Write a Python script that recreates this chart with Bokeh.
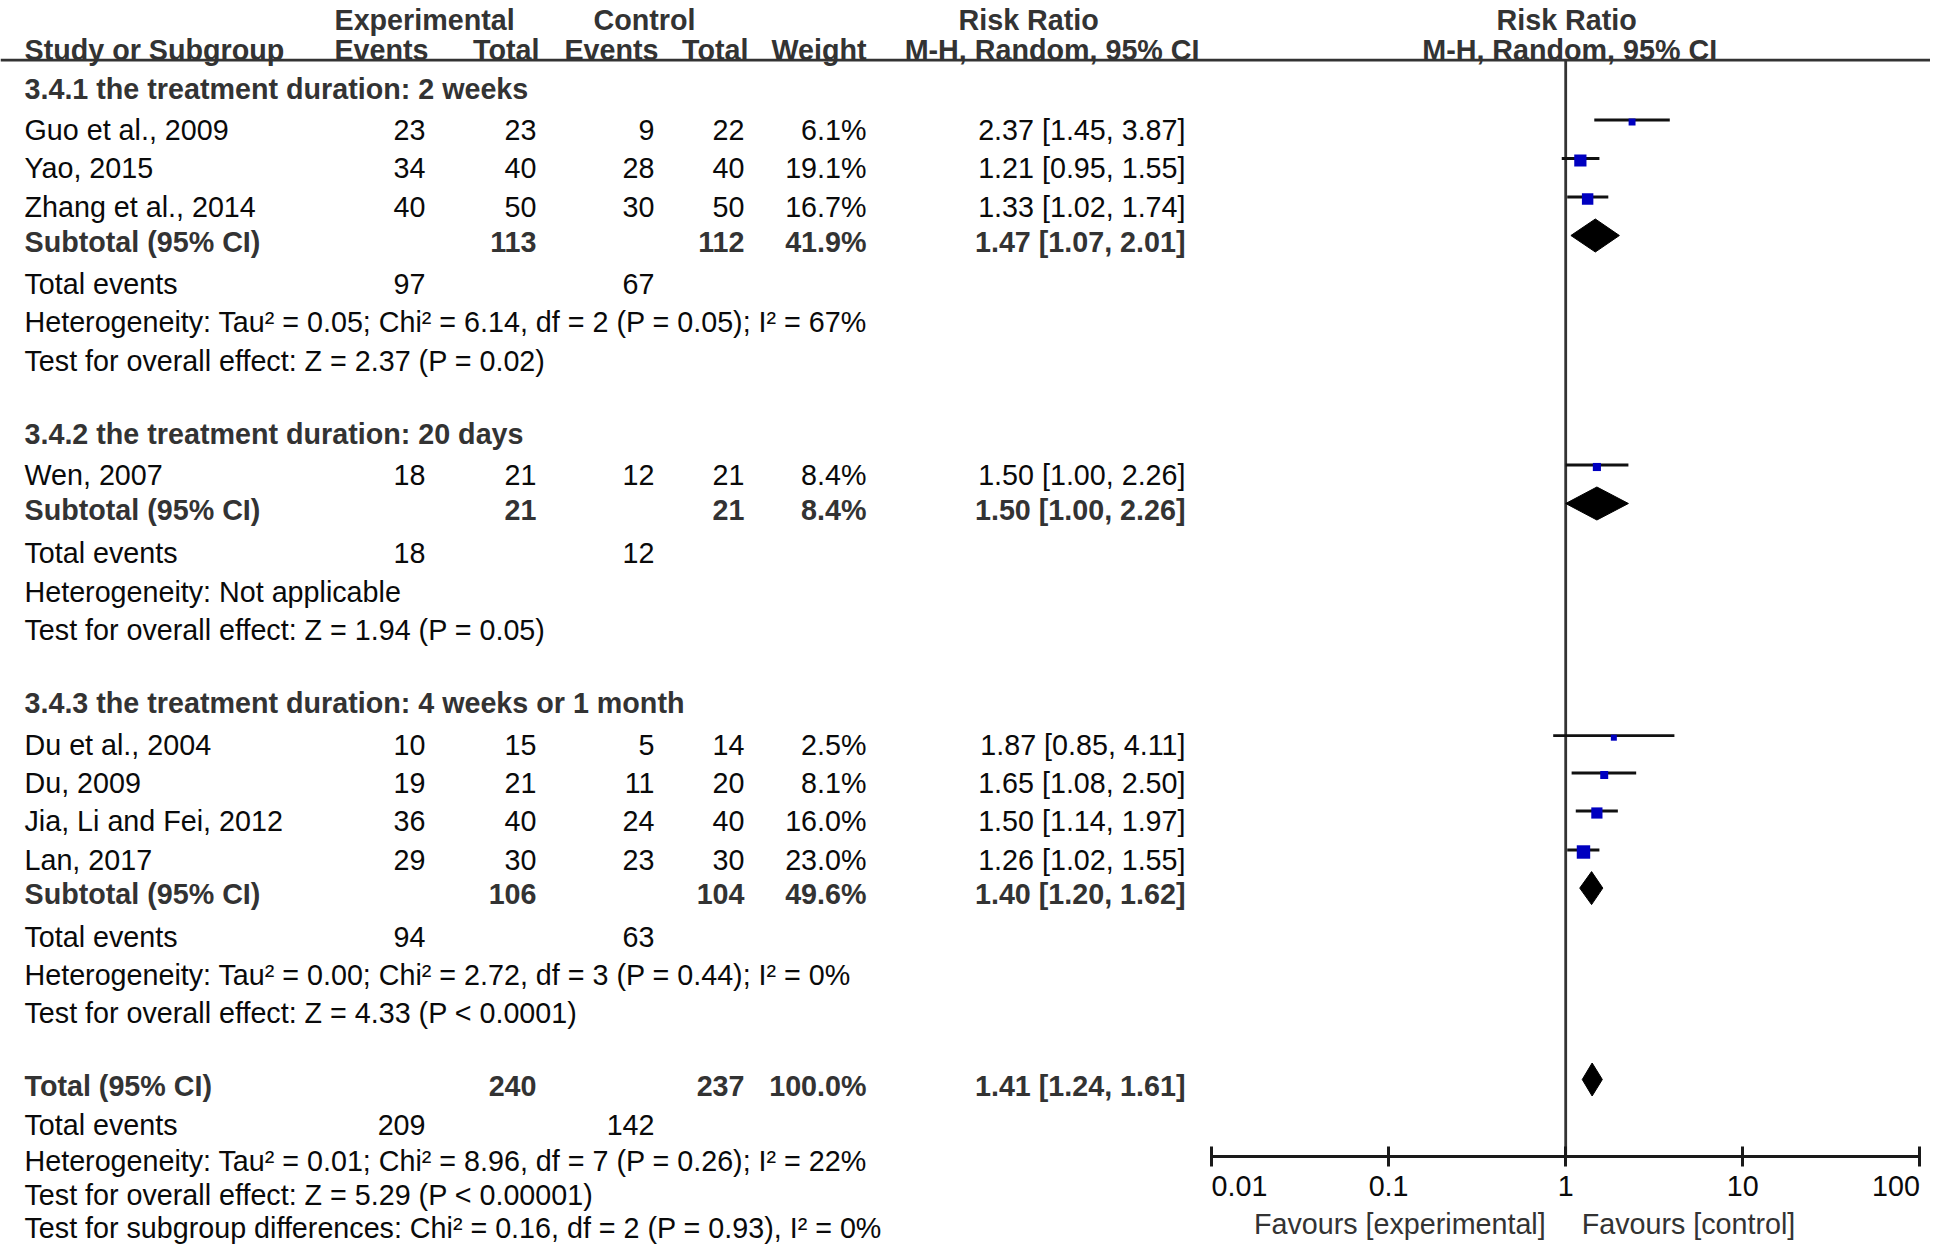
import math
from bokeh.plotting import figure
from bokeh.models import Range1d, LogScale, LogAxis, FixedTicker, ColumnDataSource
from bokeh.core.properties import value
from bokeh.embed import file_html
from bokeh.resources import INLINE

# ---------------- data ----------------
studies = ["Guo et al., 2009", "Yao, 2015", "Zhang et al., 2014", "Wen, 2007",
           "Du et al., 2004", "Du, 2009", "Jia, Li and Fei, 2012", "Lan, 2017"]
study_group = [0, 0, 0, 1, 2, 2, 2, 2]
exp_events = [23, 34, 40, 18, 10, 19, 36, 29]
exp_total = [23, 40, 50, 21, 15, 21, 40, 30]
ctl_events = [9, 28, 30, 12, 5, 11, 24, 23]
ctl_total = [22, 40, 50, 21, 14, 20, 40, 30]
weight = [6.1, 19.1, 16.7, 8.4, 2.5, 8.1, 16.0, 23.0]
rr = [2.37, 1.21, 1.33, 1.50, 1.87, 1.65, 1.50, 1.26]
rr_lo = [1.45, 0.95, 1.02, 1.00, 0.85, 1.08, 1.14, 1.02]
rr_hi = [3.87, 1.55, 1.74, 2.26, 4.11, 2.50, 1.97, 1.55]

groups = ["3.4.1 the treatment duration: 2 weeks",
          "3.4.2 the treatment duration: 20 days",
          "3.4.3 the treatment duration: 4 weeks or 1 month"]
grp_exp_total = [113, 21, 106]
grp_ctl_total = [112, 21, 104]
grp_weight = [41.9, 8.4, 49.6]
grp_rr = [1.47, 1.50, 1.40]
grp_lo = [1.07, 1.00, 1.20]
grp_hi = [2.01, 2.26, 1.62]
grp_exp_events = [97, 18, 94]
grp_ctl_events = [67, 12, 63]
grp_het = ["Heterogeneity: Tau² = 0.05; Chi² = 6.14, df = 2 (P = 0.05); I² = 67%",
           "Heterogeneity: Not applicable",
           "Heterogeneity: Tau² = 0.00; Chi² = 2.72, df = 3 (P = 0.44); I² = 0%"]
grp_test = ["Test for overall effect: Z = 2.37 (P = 0.02)",
            "Test for overall effect: Z = 1.94 (P = 0.05)",
            "Test for overall effect: Z = 4.33 (P < 0.0001)"]

tot_exp_total = 240
tot_ctl_total = 237
tot_weight = 100.0
tot_rr, tot_lo, tot_hi = 1.41, 1.24, 1.61
tot_exp_events = 209
tot_ctl_events = 142
tot_het = "Heterogeneity: Tau² = 0.01; Chi² = 8.96, df = 7 (P = 0.26); I² = 22%"
tot_test = "Test for overall effect: Z = 5.29 (P < 0.00001)"
sub_diff = "Test for subgroup differences: Chi² = 0.16, df = 2 (P = 0.93), I² = 0%"

axis_ticks = [0.01, 0.1, 1, 10, 100]
axis_tick_labels = ["0.01", "0.1", "1", "10", "100"]
favours_left = "Favours [experimental]"
favours_right = "Favours [control]"

# ---------------- layout (pixel space) ----------------
W, H = 1930, 1244
X_ONE = 1565.2      # x of RR = 1
DECADE = 177.1      # px per decade
HEAD1_Y, HEAD2_Y, HEAD_LINE_Y = 19, 49.6, 59.6
AXIS_Y = 1155.5
SG_HEADER_Y = [88, 433, 702.5]
STUDY_Y = [129, 167.5, 206, 474, 744.7, 782, 820, 859]
SUB_Y = [241, 509, 893.6]
SUB_EVENTS_Y = [283, 552, 936]
SUB_HET_Y = [321.4, 591, 974]
SUB_TEST_Y = [360, 629, 1012.7]
TOTAL_Y, TOTAL_EVENTS_Y, TOTAL_HET_Y, TOTAL_TEST_Y, SUBDIFF_Y = 1085, 1124, 1160, 1194, 1227
TICK_LABEL_Y, FAVOURS_Y = 1185, 1223
COL_NAME = 24
COL_EE, COL_ET, COL_CE, COL_CT, COL_W, COL_RR = 425, 536, 654, 744, 866, 1185

FONT = value("Liberation Sans")
FS = value("28.7px")
BLACK = "#0a0a0a"
GREY = "#333333"

p = figure(width=W, height=H, x_range=Range1d(0, W), y_range=Range1d(H, 0),
           output_backend="svg", toolbar_location=None,
           x_axis_location=None, y_axis_location=None, min_border=0)
p.outline_line_color = None
p.background_fill_color = "white"
p.border_fill_color = "white"
p.xgrid.visible = False
p.ygrid.visible = False

rr_lo_lim = 10 ** ((0 - X_ONE) / DECADE)
rr_hi_lim = 10 ** ((W - X_ONE) / DECADE)
p.extra_x_ranges = {"rr": Range1d(rr_lo_lim, rr_hi_lim)}
p.extra_x_scales = {"rr": LogScale()}

texts = {}


def add(x, y, t, align="left", bold=False, color=BLACK):
    key = (align, bold, color)
    texts.setdefault(key, ([], [], []))
    texts[key][0].append(x)
    texts[key][1].append(y)
    texts[key][2].append(t)


# headers
add(334, HEAD1_Y, "Experimental", bold=True, color=GREY)
add(593, HEAD1_Y, "Control", bold=True, color=GREY)
add(958, HEAD1_Y, "Risk Ratio", bold=True, color=GREY)
add(X_ONE + 1, HEAD1_Y, "Risk Ratio", align="center", bold=True, color=GREY)
add(COL_NAME, HEAD2_Y, "Study or Subgroup", bold=True, color=GREY)
for x, t in [(428, "Events"), (539, "Total"), (658, "Events"), (748, "Total"),
             (866, "Weight"), (1199, "M-H, Random, 95% CI")]:
    add(x, HEAD2_Y, t, align="right", bold=True, color=GREY)
add(X_ONE + 4, HEAD2_Y, "M-H, Random, 95% CI", align="center", bold=True, color=GREY)


def ci_text(a, b, c):
    return "%.2f [%.2f, %.2f]" % (a, b, c)


for g in range(3):
    add(COL_NAME, SG_HEADER_Y[g], groups[g], bold=True, color=GREY)
    for i in range(len(studies)):
        if study_group[i] != g:
            continue
        y = STUDY_Y[i]
        add(COL_NAME, y, studies[i])
        add(COL_EE, y, str(exp_events[i]), "right")
        add(COL_ET, y, str(exp_total[i]), "right")
        add(COL_CE, y, str(ctl_events[i]), "right")
        add(COL_CT, y, str(ctl_total[i]), "right")
        add(COL_W, y, "%.1f%%" % weight[i], "right")
        add(COL_RR, y, ci_text(rr[i], rr_lo[i], rr_hi[i]), "right")
    y = SUB_Y[g]
    add(COL_NAME, y, "Subtotal (95% CI)", bold=True, color=GREY)
    add(COL_ET, y, str(grp_exp_total[g]), "right", True, GREY)
    add(COL_CT, y, str(grp_ctl_total[g]), "right", True, GREY)
    add(COL_W, y, "%.1f%%" % grp_weight[g], "right", True, GREY)
    add(COL_RR, y, ci_text(grp_rr[g], grp_lo[g], grp_hi[g]), "right", True, GREY)
    add(COL_NAME, SUB_EVENTS_Y[g], "Total events")
    add(COL_EE, SUB_EVENTS_Y[g], str(grp_exp_events[g]), "right")
    add(COL_CE, SUB_EVENTS_Y[g], str(grp_ctl_events[g]), "right")
    add(COL_NAME, SUB_HET_Y[g], grp_het[g])
    add(COL_NAME, SUB_TEST_Y[g], grp_test[g])

add(COL_NAME, TOTAL_Y, "Total (95% CI)", bold=True, color=GREY)
add(COL_ET, TOTAL_Y, str(tot_exp_total), "right", True, GREY)
add(COL_CT, TOTAL_Y, str(tot_ctl_total), "right", True, GREY)
add(COL_W, TOTAL_Y, "%.1f%%" % tot_weight, "right", True, GREY)
add(COL_RR, TOTAL_Y, ci_text(tot_rr, tot_lo, tot_hi), "right", True, GREY)
add(COL_NAME, TOTAL_EVENTS_Y, "Total events")
add(COL_EE, TOTAL_EVENTS_Y, str(tot_exp_events), "right")
add(COL_CE, TOTAL_EVENTS_Y, str(tot_ctl_events), "right")
add(COL_NAME, TOTAL_HET_Y, tot_het)
add(COL_NAME, TOTAL_TEST_Y, tot_test)
add(COL_NAME, SUBDIFF_Y, sub_diff)

# favours labels
add(X_ONE - 20, FAVOURS_Y, favours_left, "right", False, GREY)
add(X_ONE + 16, FAVOURS_Y, favours_right, "left", False, GREY)

for (align, bold, color), (xs, ys, ts) in texts.items():
    src = ColumnDataSource(dict(x=xs, y=ys, text=ts))
    p.text(x="x", y="y", text="text", source=src, text_font=FONT, text_font_size=FS,
           text_font_style="bold" if bold else "normal", text_align=align,
           text_baseline="middle", text_color=color)

# header rule
p.segment(x0=[0], y0=[HEAD_LINE_Y], x1=[W], y1=[HEAD_LINE_Y], line_color=GREY, line_width=2.8)

# line of no effect
p.segment(x0=[1], y0=[HEAD_LINE_Y], x1=[1], y1=[AXIS_Y], x_range_name="rr",
          line_color=GREY, line_width=2.8)

# study CIs and squares
ci_y = [y - 9.5 for y in STUDY_Y]
sq_y = [y - 7.5 for y in STUDY_Y]
sizes = [max(6.0, 2.8 * math.sqrt(w)) for w in weight]
p.segment(x0=rr_lo, y0=ci_y, x1=rr_hi, y1=ci_y, x_range_name="rr",
          line_color="#111111", line_width=2.8)
p.scatter(x=rr, y=sq_y, size=sizes, marker="square", x_range_name="rr",
          fill_color="#0000C0", line_color=None)

# diamonds
DH = 16.5
d_mid = list(grp_rr) + [tot_rr]
d_lo = list(grp_lo) + [tot_lo]
d_hi = list(grp_hi) + [tot_hi]
d_y = [y - 6 for y in SUB_Y] + [TOTAL_Y - 6]
p.patches(xs=[[a, m, b, m] for a, m, b in zip(d_lo, d_mid, d_hi)],
          ys=[[y, y - DH, y, y + DH] for y in d_y], x_range_name="rr",
          fill_color="black", line_color="black", line_width=1)

# axis
ax = LogAxis(x_range_name="rr", ticker=FixedTicker(ticks=axis_ticks, minor_ticks=[]),
             bounds=(axis_ticks[0], axis_ticks[-1]), fixed_location=AXIS_Y,
             axis_line_width=3, axis_line_color="#1a1a1a",
             major_tick_line_width=3, major_tick_line_color="#1a1a1a",
             major_tick_in=10, major_tick_out=10, minor_tick_line_color=None,
             major_label_overrides={t: "" for t in axis_ticks})
p.add_layout(ax, "below")

# tick labels
aligns = ["left"] + ["center"] * (len(axis_ticks) - 2) + ["right"]
for al in ["left", "center", "right"]:
    idx = [i for i, a in enumerate(aligns) if a == al]
    src = ColumnDataSource(dict(x=[axis_ticks[i] for i in idx], y=[TICK_LABEL_Y] * len(idx),
                                text=[axis_tick_labels[i] for i in idx]))
    p.text(x="x", y="y", text="text", source=src, x_range_name="rr", text_font=FONT,
           text_font_size=FS, text_align=al, text_baseline="middle", text_color=BLACK)

open("out.html", "w").write(file_html(p, INLINE))
